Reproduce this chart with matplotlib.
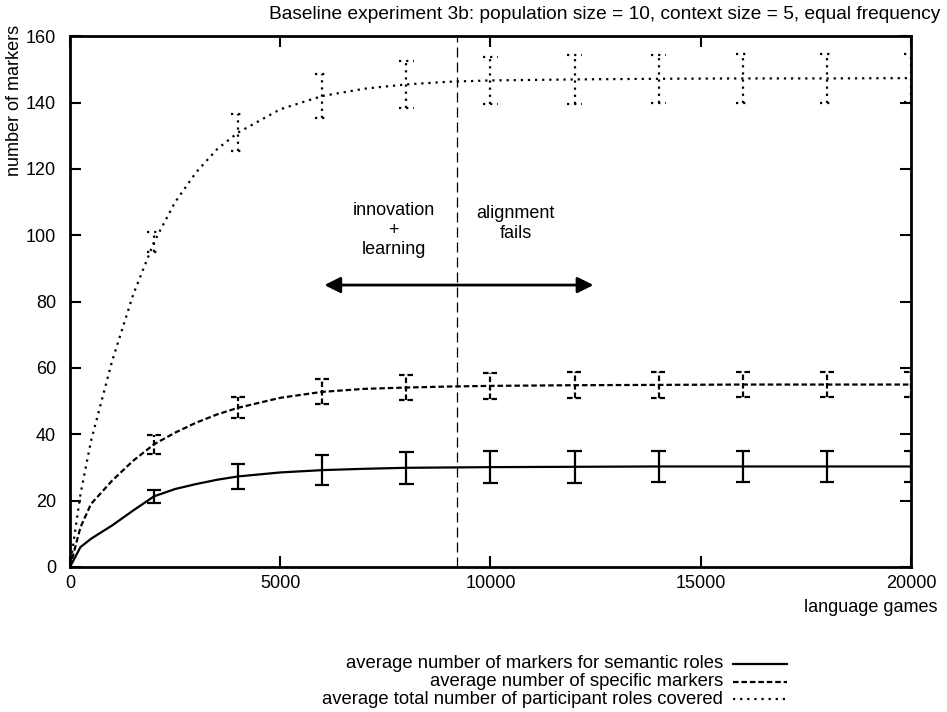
import matplotlib.pyplot as plt
from matplotlib.lines import Line2D

plt.rcParams['font.family'] = ['Liberation Sans', 'DejaVu Sans']
plt.rcParams['font.size'] = 13

# smooth curves (language games -> markers)
games = [0, 250, 500, 1000, 1500, 2000, 2500, 3000, 3500, 4000, 5000, 6000, 7000,
         8000, 9000, 10000, 12000, 14000, 16000, 18000, 20000]
semantic = [0, 6, 8.5, 12.5, 17, 21.3, 23.5, 25, 26.3, 27.3, 28.5, 29.2, 29.6,
            29.9, 30.0, 30.1, 30.2, 30.3, 30.3, 30.3, 30.3]
specific = [0, 12, 19, 26, 32, 37, 40.5, 43.5, 46, 48, 51, 52.8, 53.7,
            54.1, 54.4, 54.6, 54.8, 54.9, 55.0, 55.0, 55.0]
total = [0, 22, 38, 62, 82, 98, 110, 119, 126, 131, 138, 142, 144.2,
         145.5, 146.3, 146.7, 147.0, 147.2, 147.3, 147.3, 147.4]

# error bars every 2000 games
err_x = [2000, 4000, 6000, 8000, 10000, 12000, 14000, 16000, 18000, 20000]
semantic_mean = [21.3, 27.3, 29.2, 29.9, 30.1, 30.2, 30.3, 30.3, 30.3, 30.3]
semantic_err = [2.0, 3.8, 4.5, 4.8, 4.8, 4.8, 4.8, 4.8, 4.8, 4.8]
specific_mean = [37, 48, 52.8, 54.1, 54.6, 54.8, 54.9, 55.0, 55.0, 55.0]
specific_err = [2.8, 3.2, 3.8, 3.9, 3.9, 3.9, 3.9, 3.9, 3.9, 3.9]
total_mean = [98, 131, 142, 145.5, 146.7, 147.0, 147.2, 147.3, 147.3, 147.4]
total_err = [3.0, 5.5, 6.5, 7.0, 7.2, 7.3, 7.3, 7.3, 7.3, 7.3]

labels = ['average number of markers for semantic roles',
          'average number of specific markers',
          'average total number of participant roles covered']

fig = plt.figure(figsize=(9.47, 7.12), dpi=100)
ax = fig.add_axes([0.0739, 0.2037, 0.888, 0.7453])

styles = ['-', (0, (2.5, 1.3)), (0, (1, 2.2))]
series = [(semantic, semantic_mean, semantic_err),
          (specific, specific_mean, specific_err),
          (total, total_mean, total_err)]
cap = 170
for (ys, m, e), ls in zip(series, styles):
    ax.plot(games, ys, color='black', lw=1.6, linestyle=ls)
    lo = [a - b for a, b in zip(m, e)]
    hi = [a + b for a, b in zip(m, e)]
    ax.vlines(err_x, lo, hi, color='black', lw=1.6, linestyles=[ls])
    for x, l, h in zip(err_x, lo, hi):
        ax.hlines([l, h], x - cap, x + cap, color='black', lw=1.6, linestyles=[ls])

ax.axvline(9200, color='black', lw=0.9, linestyle=(0, (8, 4)))
ax.annotate('', xy=(6050, 85), xytext=(12450, 85),
            arrowprops=dict(arrowstyle='<|-|>', color='black', lw=2,
                            mutation_scale=24, shrinkA=0, shrinkB=0))
ax.text(7700, 101.5, 'innovation\n+\nlearning', ha='center', va='center')
ax.text(10600, 103.5, 'alignment\nfails', ha='center', va='center')

ax.set_xlim(0, 20000)
ax.set_ylim(0, 160)
ax.set_xticks(range(0, 20001, 5000))
ax.set_yticks(range(0, 161, 20))
ax.tick_params(direction='in', top=True, right=True, length=8, width=1.5)
ax.tick_params(axis='x', pad=6)
ax.tick_params(axis='y', pad=10)
for s in ax.spines.values():
    s.set_linewidth(2)

fig.text(0.0158, 0.965, 'number of markers', rotation=90, ha='center', va='top')
fig.text(0.9895, 0.147, 'language games', ha='right', va='center')
fig.text(0.9926, 0.979, 'Baseline experiment 3b: population size = 10, context size = 5, equal frequency',
         ha='right', va='center', fontsize=13.8)

# key, gnuplot style: text right-aligned, sample line to the right
key_y = [664, 682, 699]
for label, ls, y in zip(labels, styles, key_y):
    fy = (712 - y) / 712
    fig.text(723 / 947, fy, label, ha='right', va='center', fontsize=13.3)
    fig.add_artist(Line2D([733 / 947, 787 / 947], [fy, fy], transform=fig.transFigure,
                          color='black', lw=1.6, linestyle=ls))

fig.savefig('out.png', dpi=100)
